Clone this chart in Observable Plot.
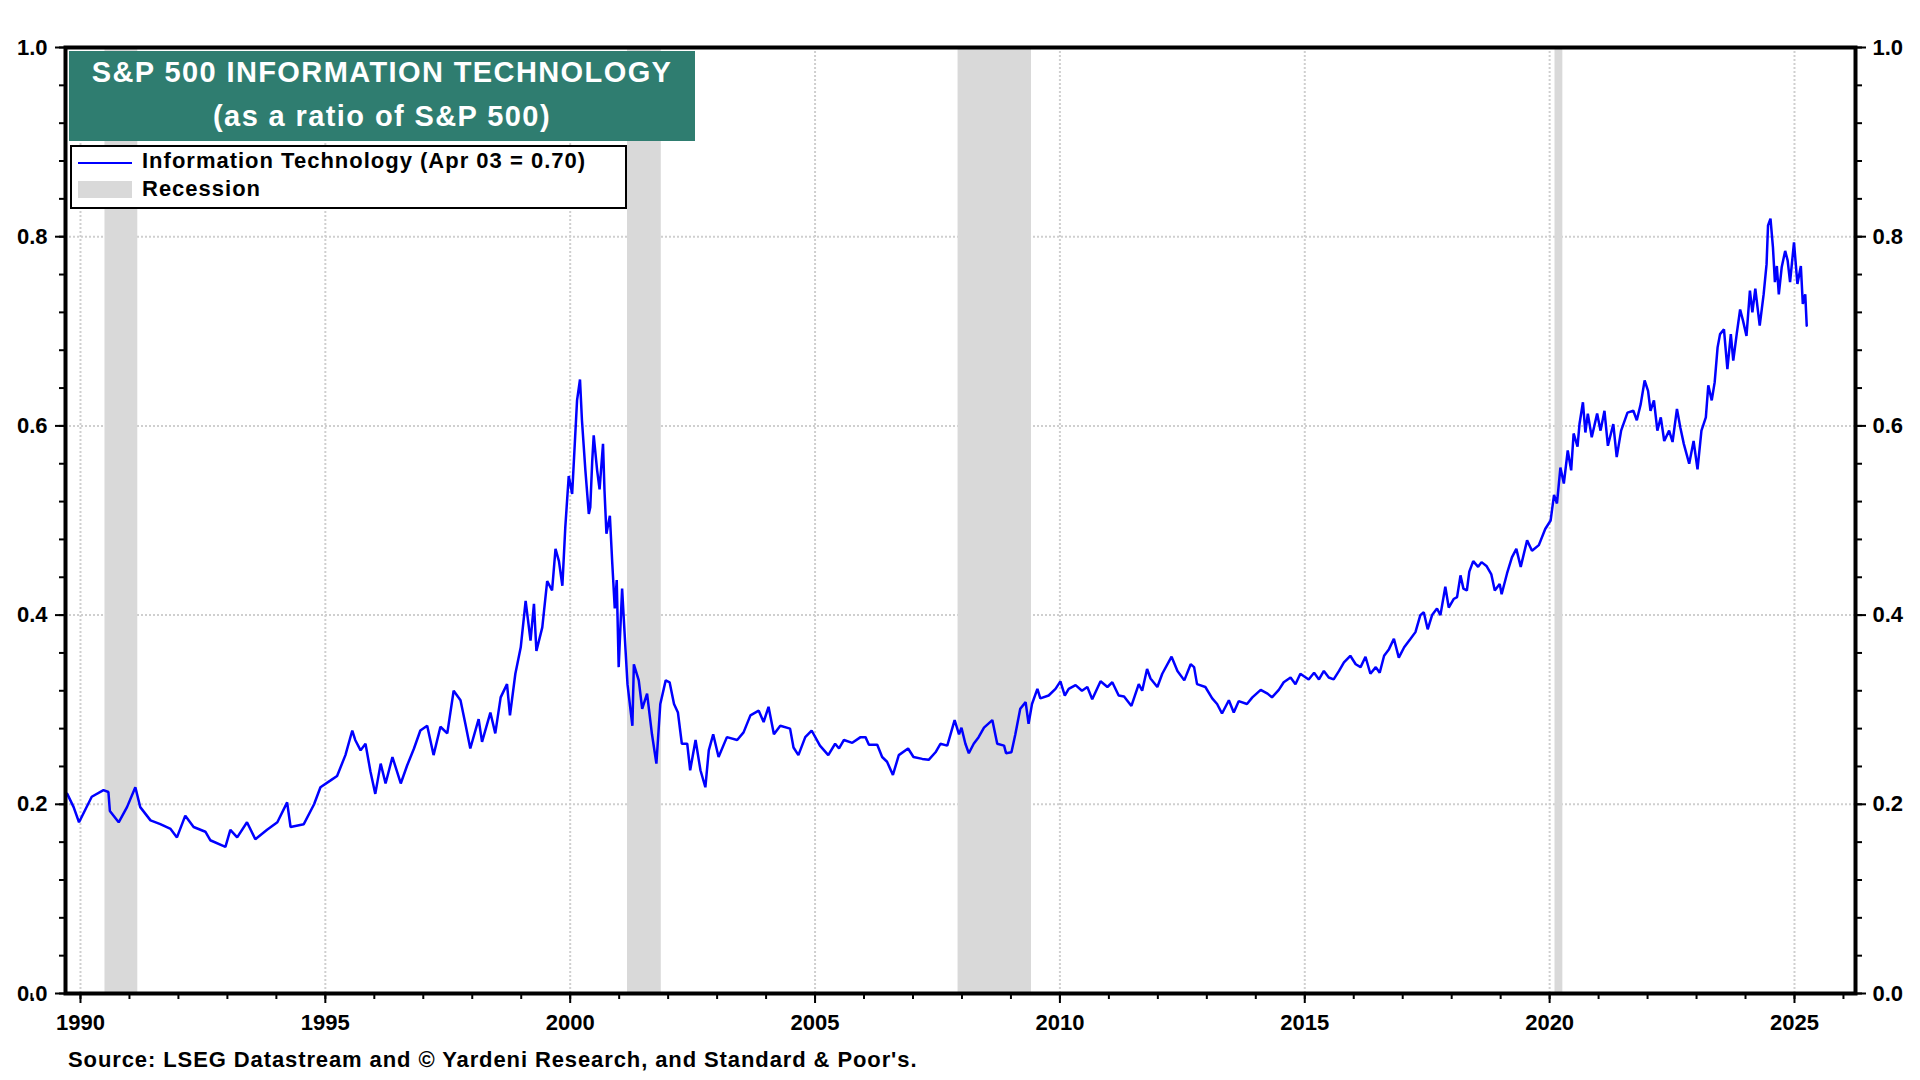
<!DOCTYPE html>
<html>
<head>
<meta charset="utf-8">
<script src="https://cdn.jsdelivr.net/npm/d3@7"></script>
<script src="https://cdn.jsdelivr.net/npm/@observablehq/plot@0.6"></script>
<style>
  html, body { margin: 0; padding: 0; background: #fff; }
  #wrap { position: relative; width: 1920px; height: 1080px; font-family: "Liberation Sans", Arial, sans-serif; font-weight: bold; }
  #chart { position: absolute; left: 0; top: 0; }
  .abs { position: absolute; white-space: nowrap; }
  #titlebox { position: absolute; left: 69px; top: 51px; width: 626px; height: 90px; background: #2f7d70; }
  .tline { position: absolute; left: 69px; width: 626px; text-align: center; color: #fff; font-size: 29px; line-height: 29px; letter-spacing: 1.4px; white-space: nowrap; }
  #legend { position: absolute; left: 70px; top: 145px; width: 557px; height: 64px; box-sizing: border-box; border: 2px solid #000; background: #fff; }
  .ltext { position: absolute; left: 142px; font-size: 22px; line-height: 22px; letter-spacing: 1px; color: #000; white-space: nowrap; }
  #caption { position: absolute; left: 68px; top: 1049px; font-size: 22px; line-height: 22px; letter-spacing: 0.9px; color: #000; white-space: nowrap; }
</style>
</head>
<body>
<div id="wrap">
  <div id="chart"></div>
  <div id="titlebox"></div>
  <div class="tline" style="top:58px">S&amp;P 500 INFORMATION TECHNOLOGY</div>
  <div class="tline" style="top:102px">(as a ratio of S&amp;P 500)</div>
  <div id="legend"></div>
  <div class="abs" style="left:78px; top:162px; width:54px; height:2px; background:#0000ff;"></div>
  <div class="ltext" style="top:150px">Information Technology (Apr 03 = 0.70)</div>
  <div class="abs" style="left:78px; top:181px; width:54px; height:17px; background:#d9d9d9;"></div>
  <div class="ltext" style="top:178px">Recession</div>
  <div id="caption">Source: LSEG Datastream and © Yardeni Research, and Standard &amp; Poor's.</div>
</div>
<script>
// Dates as decimal years, values as ratio
const itDates = [
1989.73,1989.86,1989.97,1990.23,1990.47,1990.57,1990.60,1990.78,1990.95,1991.12,1991.22,1991.43,1991.63,1991.84,1991.97,
1992.14,1992.31,1992.55,1992.65,1992.96,1993.06,1993.20,1993.40,1993.57,1993.81,1994.02,1994.22,1994.29,1994.56,1994.77,
1994.90,1995.10,1995.24,1995.41,1995.55,1995.61,1995.72,1995.82,1995.92,1996.02,1996.13,
1996.23,1996.37,1996.54,1996.67,1996.81,1996.94,1997.08,1997.21,1997.35,1997.49,1997.62,1997.76,1997.86,1997.96,
1998.13,1998.20,1998.37,1998.47,1998.58,1998.71,1998.77,1998.88,1998.99,1999.09,1999.19,1999.26,1999.31,1999.43,
1999.53,1999.63,1999.70,1999.77,1999.84,1999.90,1999.97,2000.04,2000.14,2000.20,2000.24,2000.31,2000.38,
2000.41,2000.45,2000.48,2000.55,2000.60,2000.67,2000.70,2000.74,2000.81,2000.86,2000.91,2000.95,2000.99,2001.06,
2001.13,2001.17,2001.27,2001.30,2001.40,2001.47,2001.57,2001.67,2001.76,2001.84,2001.95,2002.03,2002.12,2002.20,
2002.28,2002.39,2002.45,2002.56,2002.66,2002.76,2002.83,2002.92,2003.03,2003.20,2003.41,2003.54,2003.68,2003.85,
2003.95,2004.05,2004.16,2004.29,2004.49,2004.56,2004.66,2004.80,2004.93,2005.10,2005.27,2005.41,
2005.49,2005.59,2005.76,2005.93,2006.03,2006.10,2006.27,2006.37,2006.47,2006.59,2006.71,2006.90,2007.01,2007.19,
2007.32,2007.46,2007.56,2007.70,2007.85,2007.94,2007.99,2008.07,2008.14,2008.24,2008.34,2008.45,2008.62,2008.72,
2008.86,2008.90,2009.01,2009.09,2009.19,2009.30,2009.36,2009.43,2009.54,2009.60,2009.77,2009.91,2010.01,2010.10,
2010.18,2010.32,2010.45,2010.56,2010.66,2010.83,2010.97,2011.07,2011.20,2011.31,2011.46,2011.61,2011.68,2011.78,
2011.85,2011.99,2012.09,2012.28,2012.40,
2012.54,2012.67,2012.74,2012.80,2012.97,2013.11,2013.21,2013.31,2013.45,2013.55,2013.65,2013.82,2013.93,2014.10,
2014.24,2014.33,2014.47,2014.57,2014.71,2014.81,2014.91,2015.08,2015.19,2015.29,2015.39,2015.49,2015.59,2015.70,
2015.80,2015.93,2016.04,2016.14,2016.24,2016.34,2016.45,2016.53,2016.62,2016.72,2016.82,2016.92,2017.03,2017.16,
2017.26,2017.36,2017.43,2017.51,2017.60,2017.70,2017.77,2017.87,2017.94,2018.04,2018.11,2018.18,2018.24,2018.31,
2018.36,2018.44,2018.54,2018.61,2018.71,2018.81,2018.88,2018.98,
2019.02,2019.13,2019.23,2019.32,2019.41,2019.54,2019.64,2019.78,2019.91,2020.02,2020.09,2020.15,2020.22,2020.29,
2020.37,2020.44,2020.49,2020.57,2020.61,2020.68,2020.73,2020.78,2020.86,2020.97,2021.04,2021.12,2021.19,2021.30,
2021.37,2021.46,2021.59,2021.71,2021.78,2021.86,2021.94,2022.01,2022.06,2022.13,2022.20,2022.27,2022.34,2022.44,
2022.51,2022.60,2022.67,2022.74,2022.85,2022.94,2023.02,2023.10,2023.19,2023.24,2023.31,2023.37,2023.43,2023.48,
2023.56,2023.63,2023.70,2023.75,2023.82,2023.89,2023.95,2024.02,2024.09,2024.14,2024.20,2024.29,2024.37,2024.43,
2024.46,2024.51,2024.56,2024.60,2024.64,2024.68,2024.74,2024.81,2024.86,2024.91,2024.99,2025.06,2025.13,2025.17,
2025.22,2025.25
];
const itValues = [
0.211,0.197,0.181,0.208,0.215,0.213,0.193,0.181,0.197,0.218,0.197,0.183,0.179,0.174,0.165,
0.188,0.176,0.171,0.162,0.155,0.173,0.165,0.181,0.163,0.173,0.181,0.202,0.176,0.179,0.200,
0.218,0.225,0.230,0.252,0.278,0.268,0.257,0.264,0.235,0.211,0.243,
0.222,0.250,0.222,0.241,0.259,0.278,0.283,0.252,0.282,0.275,0.320,0.310,0.285,0.259,
0.290,0.266,0.297,0.275,0.313,0.327,0.294,0.338,0.366,0.415,0.373,0.412,0.362,0.387,
0.436,0.426,0.470,0.457,0.431,0.493,0.547,0.528,0.627,0.649,0.606,0.553,0.507,
0.514,0.563,0.590,0.553,0.533,0.581,0.532,0.486,0.505,0.454,0.407,0.437,0.345,0.428,
0.363,0.327,0.283,0.348,0.331,0.301,0.317,0.274,0.243,0.306,0.331,0.329,0.306,0.297,
0.264,0.264,0.236,0.268,0.236,0.218,0.257,0.274,0.250,0.271,0.268,0.276,0.294,0.299,
0.287,0.303,0.274,0.283,0.280,0.260,0.252,0.271,0.278,0.262,0.252,0.264,
0.259,0.268,0.265,0.271,0.271,0.263,0.263,0.250,0.245,0.231,0.252,0.259,0.250,0.248,
0.247,0.255,0.264,0.262,0.289,0.274,0.281,0.264,0.254,0.264,0.271,0.281,0.289,0.264,
0.262,0.254,0.255,0.274,0.301,0.308,0.285,0.306,0.322,0.312,0.315,0.322,0.330,0.315,
0.322,0.326,0.320,0.324,0.311,0.330,0.324,0.329,0.315,0.314,0.304,0.327,0.320,0.343,
0.333,0.324,0.338,0.356,0.341,
0.331,0.348,0.345,0.327,0.324,0.312,0.306,0.296,0.310,0.297,0.309,0.306,0.313,0.321,
0.317,0.313,0.321,0.329,0.334,0.327,0.338,0.332,0.339,0.332,0.341,0.334,0.332,0.341,
0.350,0.357,0.348,0.345,0.356,0.338,0.345,0.339,0.357,0.364,0.375,0.355,0.366,0.375,
0.382,0.400,0.403,0.385,0.400,0.407,0.400,0.430,0.408,0.417,0.419,0.442,0.428,0.426,
0.446,0.457,0.451,0.456,0.452,0.443,0.426,0.433,
0.422,0.444,0.461,0.470,0.451,0.479,0.468,0.474,0.491,0.500,0.527,0.518,0.556,0.539,
0.574,0.553,0.592,0.578,0.602,0.625,0.593,0.613,0.588,0.613,0.595,0.616,0.579,0.602,
0.567,0.595,0.614,0.616,0.606,0.623,0.648,0.637,0.616,0.627,0.595,0.609,0.584,0.595,
0.583,0.618,0.598,0.581,0.560,0.584,0.554,0.595,0.609,0.643,0.627,0.646,0.683,0.697,
0.702,0.660,0.697,0.669,0.697,0.723,0.711,0.695,0.743,0.720,0.745,0.706,0.739,0.771,
0.812,0.819,0.789,0.752,0.769,0.739,0.768,0.785,0.775,0.752,0.794,0.750,0.769,0.729,
0.739,0.706
];
const recessionStart = [1990.50, 2001.17, 2007.92, 2020.11];
const recessionEnd   = [1991.17, 2001.86, 2009.42, 2020.27];
const xTickLabels = [1990, 1995, 2000, 2005, 2010, 2015, 2020, 2025];
const yTickLabels = [0.0, 0.2, 0.4, 0.6, 0.8, 1.0];
const yGrid = [0.2, 0.4, 0.6, 0.8];

const series = itDates.map((d, i) => ({date: d, value: itValues[i]}));
const recessions = recessionStart.map((s, i) => ({x1: s, x2: recessionEnd[i], y1: 0, y2: 1}));
const minorYears = d3.range(1989, 2027);
const minorY = d3.range(0, 26).map(i => +(i * 0.04).toFixed(2));

const chart = Plot.plot({
  width: 1920,
  height: 1040,
  marginLeft: 65,
  marginRight: 65,
  marginTop: 47,
  marginBottom: 47,
  x: {type: "linear", domain: [1989.694, 2026.246]},
  y: {domain: [0, 1]},
  style: {fontFamily: "'Liberation Sans', Arial, sans-serif", fontSize: "22px", fontWeight: "bold", color: "#000", background: "#fff"},
  marks: [
    Plot.gridX(xTickLabels, {stroke: "#cfcfcf", strokeOpacity: 1, strokeWidth: 2, strokeDasharray: "2,2"}),
    Plot.gridY(yGrid, {stroke: "#cfcfcf", strokeOpacity: 1, strokeWidth: 2, strokeDasharray: "2,2"}),
    Plot.rect(recessions, {x1: "x1", x2: "x2", y1: "y1", y2: "y2", fill: "#d9d9d9"}),
    Plot.line(series, {x: "date", y: "value", stroke: "#0000ff", strokeWidth: 2.5, strokeLinejoin: "miter"}),
    Plot.axisX(minorYears, {anchor: "bottom", tickSize: 6, strokeWidth: 2, tickFormat: () => ""}),
    Plot.axisX(xTickLabels, {anchor: "bottom", tickSize: 10, tickPadding: 11, strokeWidth: 2, tickFormat: d3.format("d"), fontSize: 22, fontWeight: "bold"}),
    Plot.axisY(minorY, {anchor: "left", tickSize: 6, strokeWidth: 2, tickFormat: () => ""}),
    Plot.axisY(yTickLabels, {anchor: "left", tickSize: 10, tickPadding: 8, strokeWidth: 2, tickFormat: d3.format(".1f"), fontSize: 22, fontWeight: "bold"}),
    Plot.axisY(minorY, {anchor: "right", tickSize: 6, strokeWidth: 2, tickFormat: () => ""}),
    Plot.axisY(yTickLabels, {anchor: "right", tickSize: 10, tickPadding: 7, strokeWidth: 2, tickFormat: d3.format(".1f"), fontSize: 22, fontWeight: "bold"}),
    Plot.frame({stroke: "#000", strokeWidth: 4})
  ]
});
document.getElementById("chart").appendChild(chart);
</script>
</body>
</html>
